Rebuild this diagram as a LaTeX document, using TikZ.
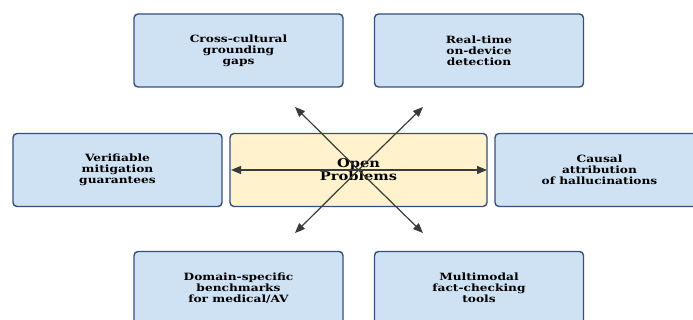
\documentclass[tikz,border=0pt]{standalone}
\usepackage{fontspec}
\setmainfont{DejaVu Serif}
\newfontfamily\widefont[FakeStretch=1.22]{DejaVu Serif}
\usetikzlibrary{arrows.meta}
\definecolor{boxblue}{HTML}{CFE2F3}
\definecolor{boxyellow}{HTML}{FFF2CC}
\definecolor{edgeblue}{HTML}{34507A}
\definecolor{arrowgray}{HTML}{3A3A3A}
\tikzset{
  basebox/.style={draw=edgeblue, line width=1.4pt, rounded corners=4pt, align=center,
    minimum height=73pt, inner sep=0pt},
  bluebox/.style={basebox, fill=boxblue, minimum width=209pt,
    font=\widefont\bfseries\fontsize{10}{11}\selectfont},
  centerbox/.style={basebox, fill=boxyellow, minimum width=257pt,
    font=\widefont\bfseries\fontsize{12}{13}\selectfont},
  link/.style={draw=arrowgray, line width=1.2pt, -{Stealth[length=10pt, width=8pt, inset=0pt]}}
}
\begin{document}
\begin{tikzpicture}[x=1pt, y=-1pt]
\useasboundingbox (0,0) rectangle (693,320);
\clip (0,0) rectangle (693,320);
\node[centerbox] (c) at (358.5,170) {Open\\Problems};
\node[bluebox] (tl) at (238.5,50.5) {Cross-cultural\\grounding\\gaps};
\node[bluebox] (tr) at (479,50.5) {Real-time\\on-device\\detection};
\node[bluebox] (l) at (117.5,170) {Verifiable\\mitigation\\guarantees};
\node[bluebox] (r) at (599.5,170) {Causal\\attribution\\of hallucinations};
\node[bluebox] (bl) at (238.5,288) {Domain-specific\\benchmarks\\for medical/AV};
\node[bluebox] (br) at (479,288) {Multimodal\\fact-checking\\tools};
\coordinate (etl) at (295,107);
\coordinate (etr) at (423,107);
\coordinate (ebl) at (295,233);
\coordinate (ebr) at (423,233);
\coordinate (el) at (231,170);
\coordinate (er) at (487,170);
\draw[link] (c.center) -- (etl);
\draw[link] (c.center) -- (etr);
\draw[link] (c.center) -- (ebl);
\draw[link] (c.center) -- (ebr);
\draw[link] (c.center) -- (el);
\draw[link] (c.center) -- (er);
\end{tikzpicture}
\end{document}
